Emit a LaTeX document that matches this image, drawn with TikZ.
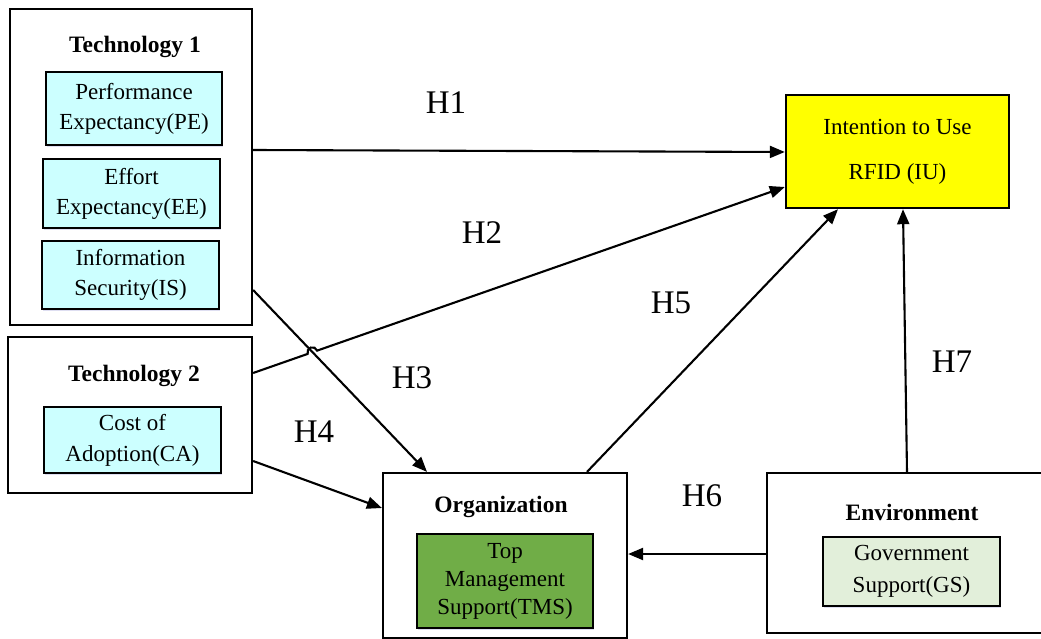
\documentclass[tikz,border=0pt]{standalone}
\usepackage{fontspec}
\setmainfont{Liberation Serif}
\usetikzlibrary{arrows.meta,calc,shadows}
\definecolor{lightcyan}{HTML}{CCFFFF}
\definecolor{tmsgreen}{HTML}{70AD47}
\definecolor{gsgreen}{HTML}{E2EFDA}
\definecolor{iuyellow}{HTML}{FFFF00}
\tikzset{
  outerbox/.style={draw=black, line width=2.2pt, fill=white, inner sep=0pt},
  innerbox/.style={draw=black, line width=2.4pt, inner sep=0pt, align=center,
    font=\fontsize{23}{30}\selectfont,
    drop shadow={opacity=0.18, shadow xshift=1pt, shadow yshift=-2pt, fill=blue!40!gray}},
  titletext/.style={font=\fontsize{23.5}{26}\selectfont\bfseries, inner sep=0pt},
  hlabel/.style={font=\fontsize{33}{36}\selectfont, inner sep=0pt},
  conn/.style={line width=2.1pt, -{Triangle[length=15pt,width=12pt]}},
}
\begin{document}
\begin{tikzpicture}[x=1pt,y=1pt]
\useasboundingbox (0,0) rectangle (1041,-639);
% outer boxes
\node[outerbox, minimum width=242, minimum height=316] (t1) at (131,-167) {};
\node[outerbox, minimum width=244, minimum height=156] (t2) at (130,-415) {};
\node[outerbox, minimum width=244, minimum height=165] (org) at (505,-555.5) {};
\node[outerbox, minimum width=276, minimum height=160] (env) at (905,-553) {};
\node[draw=black, line width=2.4pt, fill=iuyellow, minimum width=223, minimum height=113, inner sep=0pt,
  align=center, font=\fontsize{23}{45}\selectfont] (iu) at (897.5,-151.5) {Intention to Use\\RFID (IU)};
% titles
\node[titletext] (t1title) at (135,-47) {Technology 1};
\node[titletext] (t2title) at (134,-376) {Technology 2};
\node[titletext] (orgtitle) at (501,-507) {Organization};
\node[titletext] (envtitle) at (912,-512) {Environment};
% inner boxes
\node[innerbox, fill=lightcyan, minimum width=176, minimum height=73] (pe) at (134,-108.5) {Performance\\Expectancy(PE)};
\node[innerbox, fill=lightcyan, minimum width=177, minimum height=69] (ee) at (131.5,-193.5) {Effort\\Expectancy(EE)};
\node[innerbox, fill=lightcyan, minimum width=177, minimum height=68] (is) at (130.5,-275) {Information\\Security(IS)};
\node[innerbox, fill=lightcyan, minimum width=177, minimum height=66, font=\fontsize{23}{31}\selectfont] (ca) at (132.5,-440) {Cost of\\Adoption(CA)};
\node[innerbox, fill=tmsgreen, minimum width=176, minimum height=94, font=\fontsize{23}{28}\selectfont] (tms) at (505,-581) {Top\\Management\\Support(TMS)};
\node[innerbox, fill=gsgreen, minimum width=177, minimum height=69, font=\fontsize{23}{32}\selectfont] (gs) at (911.5,-571.5) {Government\\Support(GS)};
% connector end points
\coordinate (h1s) at (t1.east |- 0,-150);
\coordinate (h1e) at (iu.west |- 0,-152);
\coordinate (h2s) at (t2.east |- 0,-373);
\coordinate (h2e) at (iu.west |- 0,-187);
\coordinate (h3s) at (t1.east |- 0,-290);
\coordinate (h3e) at (org.north -| 427,0);
\coordinate (h4s) at (t2.east |- 0,-461);
\coordinate (h4e) at (org.west |- 0,-508);
\coordinate (h5s) at (org.north -| 587,0);
\coordinate (h5e) at (iu.south -| 838,0);
\coordinate (h6s) at (env.west |- 0,-554);
\coordinate (h6e) at (org.east |- 0,-554);
\coordinate (h7s) at (env.north -| 907,0);
\coordinate (h7e) at (iu.south -| 903,0);
% connectors
\draw[conn] (h1s) -- (h1e);
\coordinate (x23) at ($(h2s)!0.1115!(h2e)$);
\coordinate (hopA) at ($(x23)!5pt!(h2s)$);
\draw[conn] (h2s) -- (hopA) arc[start angle=199.2, end angle=19.2, radius=5pt] -- (h2e);
\draw[conn] (h3s) -- (h3e);
\draw[conn] (h4s) -- (h4e);
\draw[conn] (h5s) -- (h5e);
\draw[conn] (h6s) -- (h6e);
\draw[conn] (h7s) -- (h7e);
% labels
\node[hlabel] (l1) at (446,-103) {H1};
\node[hlabel] (l2) at (482,-233) {H2};
\node[hlabel] (l3) at (412,-378) {H3};
\node[hlabel] (l4) at (314,-432) {H4};
\node[hlabel] (l5) at (671,-303) {H5};
\node[hlabel] (l6) at (702,-496) {H6};
\node[hlabel] (l7) at (952,-362) {H7};
\end{tikzpicture}
\end{document}
